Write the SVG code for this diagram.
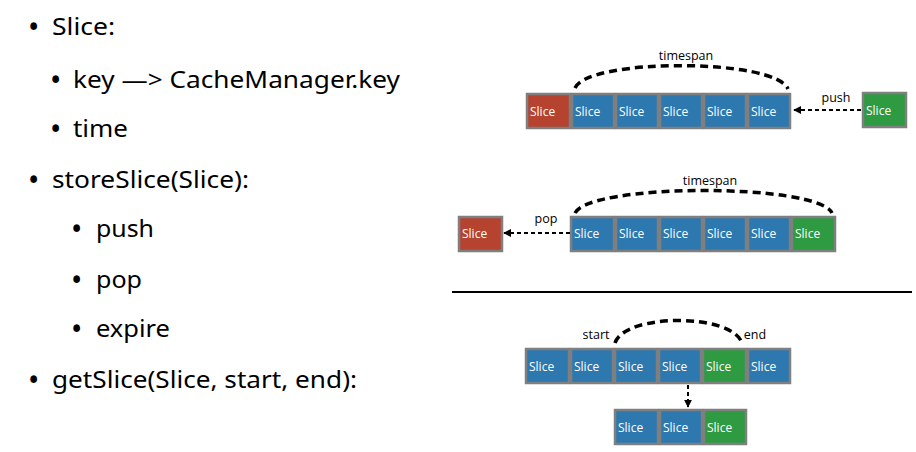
<svg xmlns="http://www.w3.org/2000/svg" width="916" height="452" viewBox="0 0 916 452">
<style>
.t{font-family:"Noto Sans","Open Sans",sans-serif;font-size:23px;fill:#000}
.b{font-family:"Noto Sans",sans-serif;font-size:30px;fill:#000}
.box rect{stroke:#7f7f7f;stroke-width:2.5}
.red{fill:#b5432f}
.blue{fill:#2e78b0}
.green{fill:#2e9a42}
.lbl{font-family:"Open Sans","Noto Sans",sans-serif;font-size:12px;fill:#fff}
.cap{font-family:"Open Sans","Noto Sans",sans-serif;font-size:12.5px;fill:#000}
.arc{fill:none;stroke:#000;stroke-width:3.5;stroke-dasharray:8,5}
.arr{fill:none;stroke:#000;stroke-width:2;stroke-dasharray:4,3}
</style>
<defs>
<marker id="ah" viewBox="0 0 10 10" refX="9" refY="5" markerWidth="4" markerHeight="4" orient="auto">
<path d="M0,0 L10,5 L0,10 z" fill="#000"/>
</marker>
</defs>
<rect width="916" height="452" fill="#fff"/>
<g id="bullets">
<text class="b" x="28" y="38">•</text>
<text class="t" x="52" y="35" textLength="63" lengthAdjust="spacingAndGlyphs">Slice:</text>
<text class="b" x="50" y="91">•</text>
<text class="t" x="73" y="88" textLength="327" lengthAdjust="spacingAndGlyphs">key —&gt; CacheManager.key</text>
<text class="b" x="50" y="140">•</text>
<text class="t" x="73" y="137" textLength="55" lengthAdjust="spacingAndGlyphs">time</text>
<text class="b" x="28" y="191">•</text>
<text class="t" x="52" y="188" textLength="197" lengthAdjust="spacingAndGlyphs">storeSlice(Slice):</text>
<text class="b" x="71" y="240">•</text>
<text class="t" x="96" y="237" textLength="58" lengthAdjust="spacingAndGlyphs">push</text>
<text class="b" x="71" y="291">•</text>
<text class="t" x="96" y="288" textLength="46" lengthAdjust="spacingAndGlyphs">pop</text>
<text class="b" x="71" y="340">•</text>
<text class="t" x="96" y="337" textLength="74" lengthAdjust="spacingAndGlyphs">expire</text>
<text class="b" x="28" y="391">•</text>
<text class="t" x="52" y="388" textLength="305" lengthAdjust="spacingAndGlyphs">getSlice(Slice, start, end):</text>
</g>
<line x1="452" y1="292" x2="912" y2="292" stroke="#000" stroke-width="2.2"/>
<g id="row1" class="box">
<rect class="red" x="527" y="94" width="43" height="34"/><text class="lbl" x="530" y="116">Slice</text>
<rect class="blue" x="572" y="94" width="42" height="34"/><text class="lbl" x="575" y="116">Slice</text>
<rect class="blue" x="616" y="94" width="42" height="34"/><text class="lbl" x="619" y="116">Slice</text>
<rect class="blue" x="660" y="94" width="42" height="34"/><text class="lbl" x="663" y="116">Slice</text>
<rect class="blue" x="704" y="94" width="42" height="34"/><text class="lbl" x="707" y="116">Slice</text>
<rect class="blue" x="748" y="94" width="42" height="34"/><text class="lbl" x="751" y="116">Slice</text>
<rect class="green" x="863" y="93" width="43" height="34"/><text class="lbl" x="866" y="115">Slice</text>
</g>
<g id="row2" class="box">
<rect class="red" x="459" y="217" width="43" height="34"/><text class="lbl" x="462" y="238">Slice</text>
<rect class="blue" x="571" y="217" width="43" height="34"/><text class="lbl" x="574" y="238">Slice</text>
<rect class="blue" x="616" y="217" width="42" height="34"/><text class="lbl" x="619" y="238">Slice</text>
<rect class="blue" x="660" y="217" width="42" height="34"/><text class="lbl" x="663" y="238">Slice</text>
<rect class="blue" x="704" y="217" width="42" height="34"/><text class="lbl" x="707" y="238">Slice</text>
<rect class="blue" x="748" y="217" width="42" height="34"/><text class="lbl" x="751" y="238">Slice</text>
<rect class="green" x="792" y="217" width="43" height="34"/><text class="lbl" x="795" y="238">Slice</text>
</g>
<g id="row3" class="box">
<rect class="blue" x="526" y="349" width="43" height="34"/><text class="lbl" x="529" y="371">Slice</text>
<rect class="blue" x="571" y="349" width="42" height="34"/><text class="lbl" x="574" y="371">Slice</text>
<rect class="blue" x="615" y="349" width="42" height="34"/><text class="lbl" x="618" y="371">Slice</text>
<rect class="blue" x="659" y="349" width="42" height="34"/><text class="lbl" x="662" y="371">Slice</text>
<rect class="green" x="703" y="349" width="43" height="34"/><text class="lbl" x="706" y="371">Slice</text>
<rect class="blue" x="748" y="349" width="42" height="34"/><text class="lbl" x="751" y="371">Slice</text>
</g>
<g id="row4" class="box">
<rect class="blue" x="615" y="410" width="43" height="34"/><text class="lbl" x="618" y="432">Slice</text>
<rect class="blue" x="660" y="410" width="42" height="34"/><text class="lbl" x="663" y="432">Slice</text>
<rect class="green" x="704" y="410" width="42" height="34"/><text class="lbl" x="707" y="432">Slice</text>
</g>
<g id="connectors">
<path class="arc" d="M575,88 C588,58 775,58 788,89"/>
<path class="arc" d="M575,213 C590,183 818,183 832,213"/>
<path class="arc" d="M615,343 C625,313 732,313 742,343"/>
<path class="arr" d="M861,110 L794,110" marker-end="url(#ah)"/>
<path class="arr" d="M570,233 L504,233" marker-end="url(#ah)"/>
<path class="arr" d="M688,385 L688,407" marker-end="url(#ah)"/>
</g>
<g id="labels">
<text class="cap" x="686" y="60" text-anchor="middle">timespan</text>
<text class="cap" x="836" y="102" text-anchor="middle">push</text>
<text class="cap" x="710" y="185" text-anchor="middle">timespan</text>
<text class="cap" x="546" y="223" text-anchor="middle">pop</text>
<text class="cap" x="596" y="339" text-anchor="middle">start</text>
<text class="cap" x="755" y="339" text-anchor="middle">end</text>
</g>
</svg>
